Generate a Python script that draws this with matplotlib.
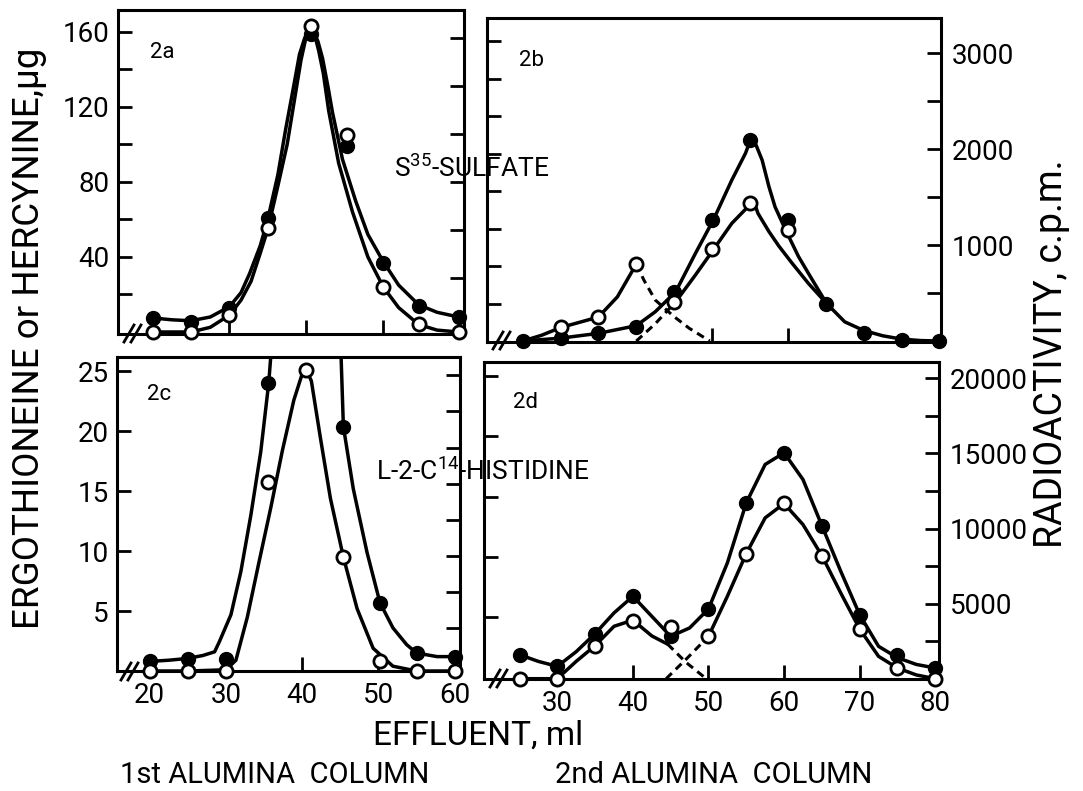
import numpy as np
import matplotlib
matplotlib.use('Agg')
import matplotlib.pyplot as plt
from matplotlib.lines import Line2D

plt.rcParams['font.family'] = ['Roboto', 'DejaVu Sans']
plt.rcParams['mathtext.fontset'] = 'custom'
plt.rcParams['mathtext.rm'] = 'Roboto'
plt.rcParams['mathtext.it'] = 'Roboto'
plt.rcParams['mathtext.bf'] = 'Roboto'

nan = np.nan

# ---------------- data: panel 2a (ug) ----------------
a_x = [20, 25, 30, 35, 40.6, 45.3, 50, 54.7, 59.8]
a_closed = [7.5, 5.5, 13, 61, 159, 99, 37, 14, 8]
a_open = [0, 0, 9, 55.5, 163, 105, 24, 4, 0]
a_curve_closed_x = [20, 22.5, 25, 27.5, 30, 31.5, 32.6, 34, 35, 36.3, 37.3, 38.3, 39.1, 39.8,
                    40.3, 40.6, 41.0, 41.5, 42.1, 42.8, 43.4, 44.7, 46.4, 48, 50, 52, 54.6, 57, 59.8]
a_curve_closed_y = [7.5, 6.5, 6.0, 8.0, 13.5, 21, 31, 46, 60.5, 84, 108, 130, 148, 157,
                    160.5, 161, 159.5, 155, 146, 131, 117, 92, 70, 52, 37.5, 25, 14.5, 10.5, 8]
a_curve_open_x = [20, 25, 27.5, 30, 31.5, 32.8, 34, 35, 36.3, 37.5, 38.5, 39.3, 40, 40.6,
                  41.1, 41.6, 42.2, 42.9, 44.2, 46, 48, 50, 52, 54.6, 57, 59.8]
a_curve_open_y = [0, 0, 2.5, 9, 17, 27, 42, 55, 78, 100, 125, 145, 158, 162.5,
                  158, 150, 138, 118, 90, 64, 40, 24, 13, 4, 1, 0]

# ---------------- data: panel 2b (c.p.m.) ----------------
b_x = [25, 30, 35, 40, 45, 50, 55, 60, 65, 70, 75, 80]
b_closed = [0, 30, 80, 150, 510, 1265, 2090, 1260, 390, 80, 10, 0]
b_open = [nan, 145, 250, 805, 410, 960, 1435, 1160, nan, nan, nan, nan]
b_curve_closed_x = [25, 30, 35, 40, 42.5, 45.2, 47.8, 50.2, 52.6, 54.4, 54.9, 55.3, 55.7, 56.6,
                    57.5, 58.3, 59.7, 61.4, 63.2, 65.1, 67.5, 70, 72.5, 75, 77.5, 80]
b_curve_closed_y = [0, 30, 80, 160, 305, 514, 913, 1267, 1677, 1955, 2060, 2100, 2060, 1885,
                    1608, 1399, 1156, 880, 640, 392, 200, 110, 55, 20, 5, 0]
b_curve_open2_x = [45.2, 47.8, 50.2, 52.6, 54.4, 54.9, 55.3, 55.7, 56.05, 57.5, 58.8, 60.5, 62.7, 65.1]
b_curve_open2_y = [410, 688, 955, 1226, 1372, 1425, 1450, 1410, 1330, 1140, 990, 816, 601, 392]
b_curve_open1_x = [25, 27.5, 30, 32.5, 35, 37.5, 40]
b_curve_open1_y = [0, 60, 140, 195, 250, 460, 802]
b_dash_fall_x = [40, 41, 42.5, 45, 47, 49.7]
b_dash_fall_y = [802, 635, 427, 253, 132, 0]
b_dash_rise_x = [40, 42.5, 45.2]
b_dash_rise_y = [0, 180, 410]

# ---------------- data: panel 2c (ug) ----------------
c_x = [20, 25, 30, 35.5, 40.5, 45.4, 50.2, 55, 60]
c_closed = [0.8, 1.0, 1.0, 24.0, nan, 20.4, 5.7, 1.5, 1.2]
c_open = [0, 0, 0, 15.8, 25.1, 9.5, 0.8, 0, 0]
c_curve_closed_left_x = [20, 22.5, 25, 27, 28.5, 29.1, 30.65, 31.95, 33.26, 34.56, 35.6, 35.87]
c_curve_closed_left_y = [0.8, 0.9, 1.05, 1.3, 1.6, 2.4, 4.7, 8.3, 13.0, 18.3, 24.0, 26.2]
c_curve_closed_right_x = [45.1, 45.4, 46.7, 48.5, 50.2, 51.9, 53.7, 55, 57.7, 60]
c_curve_closed_right_y = [26.2, 20.4, 15.2, 9.9, 5.7, 3.6, 2.2, 1.5, 1.2, 1.2]
c_curve_open_x = [20, 25, 30, 31.3, 32.8, 34.3, 35.9, 37.4, 38.9, 40.0, 40.5, 41.2, 42.4, 43.7,
                  45.4, 47.2, 49.3, 51.9, 55, 60]
c_curve_open_y = [0, 0, 0.1, 0.9, 4.5, 9.0, 13.7, 18.4, 22.6, 24.8, 25.2, 24.2, 19.4, 14.4,
                  9.5, 5.2, 1.9, 0.4, 0, 0]

# ---------------- data: panel 2d (c.p.m.) ----------------
d_x = [25, 30, 35, 40, 45, 50, 55, 60, 65, 70, 75, 80]
d_closed = [1600, 820, 3000, 5490, 2820, 4640, 11710, 15000, 10200, 4270, 1600, 710]
d_open = [0, 0, 2200, 3820, 3440, 2820, 8330, 11670, 8200, 3310, 710, 0]
d_curve_closed_x = [25, 27.5, 30, 32.5, 35, 37.5, 40, 42.5, 45, 47.5, 50, 52.5, 55, 57.5, 60,
                    62.5, 65, 67.5, 70, 72.5, 75, 77.5, 80]
d_curve_closed_y = [1600, 1150, 822, 1800, 3000, 4380, 5490, 4156, 2822, 3378, 4644, 7711, 11711,
                    14267, 15044, 13267, 10200, 7156, 4267, 2156, 1400, 950, 711]
d_curve_open1_x = [25, 30, 32.5, 35, 37.5, 40, 42.5, 44.6]
d_curve_open1_y = [0, 0, 1156, 2200, 3489, 3900, 2850, 2300]
d_dash_fall_x = [44.6, 47, 49.7]
d_dash_fall_y = [2300, 1100, 0]
d_dash_rise_x = [44.4, 47.2, 50]
d_dash_rise_y = [0, 1378, 2822]
d_curve_open2_x = [50, 52.5, 55, 57.5, 60, 62.5, 65, 67.5, 70, 72.5, 75, 77.5, 80]
d_curve_open2_y = [2822, 5489, 8333, 10711, 11667, 10267, 8200, 5711, 3311, 1489, 711, 250, 0]

# tick values
a_left_ticks = [20, 40, 60, 80, 100, 120, 140, 160]
a_left_labels = ['', '40', '', '80', '', '120', '', '160']
cpm_small_ticks = [500, 1000, 1500, 2000, 2500, 3000]
cpm_small_labels = ['', '1000', '', '2000', '', '3000']
c_left_ticks = [5, 10, 15, 20, 25]
cpm_big_ticks = [2500, 5000, 7500, 10000, 12500, 15000, 17500, 20000]
cpm_big_labels = ['', '5000', '', '10000', '', '15000', '', '20000']
x1_ticks = [20, 30, 40, 50, 60]
x2_ticks = [30, 40, 50, 60, 70, 80]

# ---------------- figure ----------------
W, H = 1083, 791
fig = plt.figure(figsize=(W / 100, H / 100), dpi=100)


def rect(l, t, r, b):
    return [l / W, 1 - b / H, (r - l) / W, (b - t) / H]


LW_SPINE = 2.2
LW_CURVE = 2.5
TICK_LEN = 10
TICK_W = 2.0
FS_TICK = 20


def style(ax):
    for s in ax.spines.values():
        s.set_linewidth(LW_SPINE)
    ax.tick_params(direction='in', length=TICK_LEN, width=TICK_W, labelsize=FS_TICK)


def curve(ax, x, y, dashed=False):
    if dashed:
        ax.plot(x, y, color='black', lw=2.2, linestyle=(0, (2.6, 1.8)),
                dash_capstyle='butt', zorder=2)
    else:
        ax.plot(x, y, color='black', lw=LW_CURVE, solid_joinstyle='round',
                solid_capstyle='round', zorder=2)


def points(ax, x, yc, yo):
    ax.plot(x, yc, 'o', color='black', ms=10, zorder=4, clip_on=False)
    ax.plot(x, yo, 'o', mfc='white', mec='black', mew=2.0, ms=9.5, zorder=5, clip_on=False)


def twin_ticks(ax, side, lim, ticks):
    t = ax.twinx()
    t.set_ylim(*lim)
    t.set_yticks(ticks)
    t.set_yticklabels([])
    t.tick_params(direction='in', length=TICK_LEN, width=TICK_W)
    if side == 'left':
        t.yaxis.tick_left()
    else:
        t.yaxis.tick_right()
    for s in t.spines.values():
        s.set_visible(False)
    return t


# ---- 2a ----
axa = fig.add_axes(rect(118, 10, 464, 334))
style(axa)
axa.set_xlim(15.5, 60.5)
axa.set_ylim(-1.07, 171.7)
curve(axa, a_curve_closed_x, a_curve_closed_y)
curve(axa, a_curve_open_x, a_curve_open_y)
points(axa, a_x, a_closed, a_open)
twin_ticks(axa, 'right', (-79, 3287), cpm_small_ticks)
axa.yaxis.tick_left()
axa.set_yticks(a_left_ticks)
axa.set_yticklabels(a_left_labels)
axa.set_xticks([30, 40, 50])
axa.set_xticklabels([])
axa.tick_params(axis='y', pad=6)

# ---- 2b ----
axb = fig.add_axes(rect(487, 18, 941, 342))
style(axb)
axb.set_xlim(20.3, 80.2)
axb.set_ylim(-10, 3365)
curve(axb, b_curve_closed_x, b_curve_closed_y)
curve(axb, b_curve_open2_x, b_curve_open2_y)
curve(axb, b_curve_open1_x, b_curve_open1_y)
curve(axb, b_dash_fall_x, b_dash_fall_y, dashed=True)
curve(axb, b_dash_rise_x, b_dash_rise_y, dashed=True)
points(axb, b_x, b_closed, b_open)
twin_ticks(axb, 'left', (-0.53, 172.3), a_left_ticks)
axb.yaxis.tick_right()
axb.set_yticks(cpm_small_ticks)
axb.set_yticklabels(cpm_small_labels)
axb.tick_params(axis='y', pad=8)
axb.set_xticks([50, 60])
axb.set_xticklabels([])

# ---- 2c ----
axc = fig.add_axes(rect(117, 357, 460, 671))
style(axc)
axc.set_xlim(15.7, 60.7)
axc.set_ylim(0, 26.2)
curve(axc, c_curve_closed_left_x, c_curve_closed_left_y)
curve(axc, c_curve_closed_right_x, c_curve_closed_right_y)
curve(axc, c_curve_open_x, c_curve_open_y)
points(axc, c_x, c_closed, c_open)
twin_ticks(axc, 'right', (-444, 21266), cpm_big_ticks)
axc.yaxis.tick_left()
axc.set_yticks(c_left_ticks)
axc.set_xticks(x1_ticks)
axc.tick_params(axis='y', pad=6)
axc.tick_params(axis='x', pad=8)

# ---- 2d ----
axd = fig.add_axes(rect(484, 362, 939, 679))
style(axd)
axd.set_xlim(20.3, 80.5)
axd.set_ylim(-20, 21090)
curve(axd, d_curve_closed_x, d_curve_closed_y)
curve(axd, d_curve_open1_x, d_curve_open1_y)
curve(axd, d_dash_fall_x, d_dash_fall_y, dashed=True)
curve(axd, d_dash_rise_x, d_dash_rise_y, dashed=True)
curve(axd, d_curve_open2_x, d_curve_open2_y)
points(axd, d_x, d_closed, d_open)
twin_ticks(axd, 'left', (-0.19, 26.2), c_left_ticks)
axd.yaxis.tick_right()
axd.set_yticks(cpm_big_ticks)
axd.set_yticklabels(cpm_big_labels)
axd.tick_params(axis='y', pad=8)
axd.set_xticks(x2_ticks)
axd.tick_params(axis='x', pad=8)

# ---- axis breaks "//" ----
for (x0, y0) in [(124, 342), (493, 349), (121, 680), (490, 687)]:
    for dx in (0, 7):
        fig.add_artist(Line2D([(x0 + dx) / W, (x0 + dx + 10) / W],
                              [1 - y0 / H, 1 - (y0 - 17) / H],
                              transform=fig.transFigure, color='black', lw=2.0))

# ---- texts ----
def ftext(x, y, s, **kw):
    fig.text(x / W, 1 - y / H, s, **kw)


ftext(150, 53, '2a', fontsize=16, ha='left', va='center')
ftext(519, 60, '2b', fontsize=16, ha='left', va='center')
ftext(147, 395, '2c', fontsize=16, ha='left', va='center')
ftext(513, 402, '2d', fontsize=16, ha='left', va='center')
ftext(472, 168, 'S$^{35}$-SULFATE', fontsize=19, ha='center', va='center')
ftext(483, 471, 'L-2-C$^{14}$-HISTIDINE', fontsize=19, ha='center', va='center')
ftext(29, 338, 'ERGOTHIONEINE or HERCYNINE,µg', fontsize=26.5, rotation=90,
      ha='center', va='center')
ftext(1052, 354, 'RADIOACTIVITY, c.p.m.', fontsize=27, rotation=90,
      ha='center', va='center')
ftext(478, 736, 'EFFLUENT, ml', fontsize=24, ha='center', va='center')
ftext(275, 775, '1st ALUMINA  COLUMN', fontsize=21, ha='center', va='center')
ftext(714, 775, '2nd ALUMINA  COLUMN', fontsize=21, ha='center', va='center')

fig.savefig('out.png', dpi=100, facecolor='white')
